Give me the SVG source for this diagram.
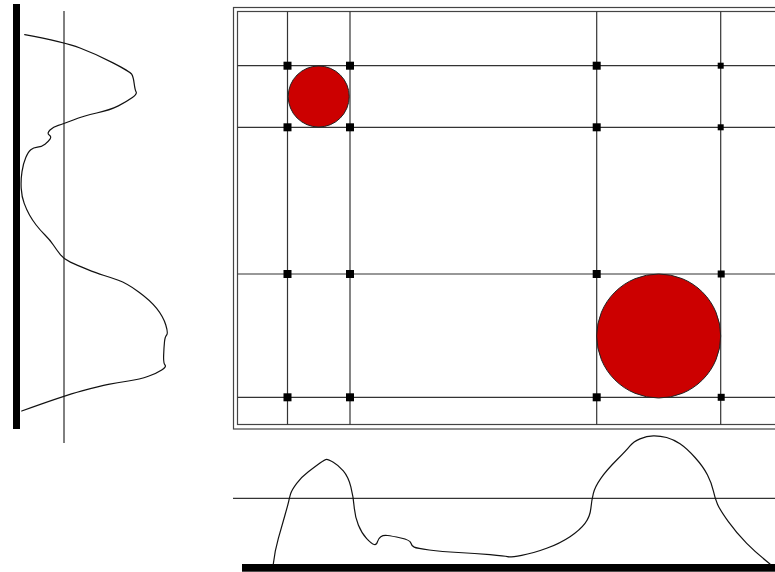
<svg xmlns="http://www.w3.org/2000/svg" width="775" height="572" viewBox="0 0 775 572">
<style>
.thin{stroke:#000;stroke-width:1;fill:none}
.grid{stroke:#333;stroke-width:1.2;fill:none}
.frame{stroke:#444;stroke-width:1.2;fill:none}
.curve{stroke:#111;stroke-width:1.2;fill:none;stroke-linejoin:round;stroke-linecap:round}
.bar{fill:#000}
.dot{fill:#000}
.disc{fill:#CC0000;stroke:#222;stroke-width:1}
</style>
<rect width="775" height="572" fill="#fff"/>
<g id="left-profile">
<rect class="bar" x="13" y="4" width="7" height="425"/>
<line class="thin" x1="64" y1="11" x2="64" y2="443"/>
<path class="curve" d="M24.7,34.7 Q64,42 80,48 Q96,54 113,62.85 Q130,71.7 131.65,74.2 Q133.3,76.7 134.15,83.35 Q135,90 136.15,92 Q137.3,94 132,97.85 Q126.7,101.7 118.35,105.85 Q110,110 96.65,113 Q83.3,116 73.3,120 Q63.3,124 58.3,125.35 Q53.3,126.7 50,130 Q46.7,133.3 49.2,135 Q51.7,136.7 50,139.2 Q48.3,141.7 45,144.2 Q41.7,146.7 37.5,147.2 Q33.3,147.7 30.8,149.7 Q28.3,151.7 25.8,157.5 Q23.3,163.3 22,171.65 Q20.7,180 21.2,188.35 Q21.7,196.7 24.2,203.35 Q26.7,210 29.5,215 Q32.3,220 36.15,225 Q40,230 45,235 Q50,240 53.35,245 Q56.7,250 60.35,254.65 Q64,259.3 70.35,262.15 Q76.7,265 86.7,269.15 Q96.7,273.3 103.35,275.3 Q110,277.3 118.35,280.3 Q126.7,283.3 138.35,291.65 Q150,300 156.65,308.35 Q163.3,316.7 165.8,325 Q168.3,333.3 166.65,335 Q165,336.7 164.5,341.7 Q164,346.7 163.65,355 Q163.3,363.3 165,365 Q166.7,366.7 161.7,370 Q156.7,373.3 148.35,376.3 Q140,379.3 128.35,381 Q116.7,382.7 108.35,384.35 Q100,386 82,390.85 Q64,395.7 21.7,411"/>
</g>
<g id="frame">
<rect class="frame" x="233.5" y="7.5" width="560" height="421.5"/>
<rect class="frame" x="237.5" y="11.5" width="560" height="413"/>
</g>
<g id="grid">
<line class="grid" x1="287.5" y1="11.5" x2="287.5" y2="424.5"/>
<line class="grid" x1="350" y1="11.5" x2="350" y2="424.5"/>
<line class="grid" x1="596.7" y1="11.5" x2="596.7" y2="424.5"/>
<line class="grid" x1="720.7" y1="11.5" x2="720.7" y2="424.5"/>
<line class="grid" x1="237.5" y1="65.7" x2="775" y2="65.7"/>
<line class="grid" x1="237.5" y1="127.3" x2="775" y2="127.3"/>
<line class="grid" x1="237.5" y1="274" x2="775" y2="274"/>
<line class="grid" x1="237.5" y1="397.3" x2="775" y2="397.3"/>
</g>
<g id="nodes">
<rect class="dot" x="283.5" y="61.7" width="8" height="8"/>
<rect class="dot" x="346" y="61.7" width="8" height="8"/>
<rect class="dot" x="592.7" y="61.7" width="8" height="8"/>
<rect class="dot" x="717.7" y="62.7" width="6" height="6"/>
<rect class="dot" x="283.5" y="123.3" width="8" height="8"/>
<rect class="dot" x="346" y="123.3" width="8" height="8"/>
<rect class="dot" x="592.7" y="123.3" width="8" height="8"/>
<rect class="dot" x="717.7" y="124.3" width="6" height="6"/>
<rect class="dot" x="283.5" y="270" width="8" height="8"/>
<rect class="dot" x="346" y="270" width="8" height="8"/>
<rect class="dot" x="592.7" y="270" width="8" height="8"/>
<rect class="dot" x="717.7" y="270.5" width="7" height="7"/>
<rect class="dot" x="283.5" y="393.3" width="8" height="8"/>
<rect class="dot" x="346" y="393.3" width="8" height="8"/>
<rect class="dot" x="592.7" y="393.3" width="8" height="8"/>
<rect class="dot" x="717.7" y="393.8" width="7" height="7"/>
</g>
<g id="small-disc">
<circle class="disc" cx="318.7" cy="96.5" r="30.5"/>
</g>
<g id="large-disc">
<circle class="disc" cx="658.7" cy="336" r="62"/>
</g>
<g id="bottom-profile">
<line class="thin" x1="233" y1="498.3" x2="775" y2="498.3"/>
<rect class="bar" x="242" y="564" width="540" height="7.7"/>
<path class="curve" d="M273.3,564 Q275,550 278.35,538.35 Q281.7,526.7 285,515 Q288.3,503.3 288.8,500.8 Q289.3,498.3 290.5,494.15 Q291.7,490 296.7,483.35 Q301.7,476.7 308.35,471.7 Q315,466.7 320,463 Q325,459.3 326.65,459.3 Q328.3,459.3 333.3,462.15 Q338.3,465 343.3,470.85 Q348.3,476.7 350.8,486.7 Q353.3,496.7 354.15,506.7 Q355,516.7 358.35,525 Q361.7,533.3 366.7,538.65 Q371.7,544 374.2,544.5 Q376.7,545 377.5,541.65 Q378.3,538.3 380.8,536.65 Q383.3,535 387.5,535.5 Q391.7,536 400.85,538 Q410,540 410.85,543 Q411.7,546 414.2,547.15 Q416.7,548.3 429.2,550 Q441.7,551.7 458.35,552.5 Q475,553.3 490,554.65 Q505,556 507.5,556.65 Q510,557.3 521.65,555.3 Q533.3,553.3 546.65,548.3 Q560,543.3 570,536.65 Q580,530 585,523.35 Q590,516.7 590.85,508.35 Q591.7,500 593.35,493.35 Q595,486.7 600.85,478.35 Q606.7,470 616.7,460 Q626.7,450 630,445.85 Q633.3,441.7 640,438.85 Q646.7,436 653.35,435.85 Q660,435.7 666.65,437.5 Q673.3,439.3 680,443.8 Q686.7,448.3 695,457.5 Q703.3,466.7 707.5,475 Q711.7,483.3 713.35,490.8 Q715,498.3 717.5,504.15 Q720,510 728.35,521.65 Q736.7,533.3 746.7,543.3 Q756.7,553.3 770,564"/>
</g>
</svg>
